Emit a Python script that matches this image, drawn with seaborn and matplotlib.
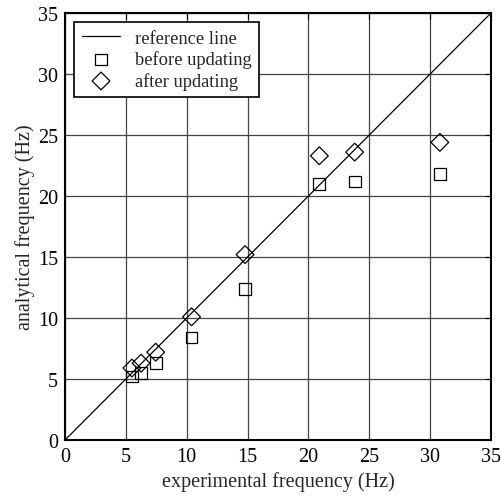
import matplotlib
matplotlib.use("Agg")
import matplotlib.pyplot as plt
import seaborn as sns
import pandas as pd

# measured vs analytical natural frequencies (Hz)
experimental = [5.5, 6.25, 7.45, 10.4, 14.8, 20.9, 23.8, 30.8]
before_updating = [5.2, 5.5, 6.3, 8.4, 12.4, 21.0, 21.2, 21.8]
after_updating = [5.9, 6.3, 7.2, 10.1, 15.2, 23.3, 23.6, 24.4]
ref_line = [0, 35]
ticks = [0, 5, 10, 15, 20, 25, 30, 35]

sns.set_style("white")
plt.rcParams['font.family'] = ['Liberation Serif', 'DejaVu Serif']
plt.rcParams['font.size'] = 14.5

df = pd.DataFrame({'exp': experimental, 'before': before_updating, 'after': after_updating})

fig, ax = plt.subplots(figsize=(5.02, 5.02), dpi=100)

sns.lineplot(x=ref_line, y=ref_line, color='black', linewidth=0.9, ax=ax, label='reference line')
sns.scatterplot(data=df, x='exp', y='before', marker='s', s=72, facecolors='none',
                edgecolor='black', linewidth=0.9, ax=ax, label='before updating')
sns.scatterplot(data=df, x='exp', y='after', marker='D', s=82, facecolors='none',
                edgecolor='black', linewidth=0.9, ax=ax, label='after updating')

ax.set_xlim(0, 35)
ax.set_ylim(0, 35)
ax.set_xticks(ticks)
ax.set_yticks(ticks)
ax.grid(True, color='#444444', linewidth=0.9)
ax.set_axisbelow(True)
ax.tick_params(direction='in', length=4, top=True, right=True, colors='black')
ax.tick_params(axis='x', pad=5)
ax.tick_params(axis='y', pad=5)
for sp in ax.spines.values():
    sp.set_color('black')
    sp.set_linewidth(1.5)

ax.set_xlabel("experimental frequency (Hz)", labelpad=4)
ax.set_ylabel("analytical frequency (Hz)", labelpad=2)

leg = ax.legend(loc='upper left', frameon=True, fancybox=False, framealpha=1,
                edgecolor='black', borderaxespad=0.5, handlelength=2.1,
                handletextpad=0.8, labelspacing=0.2, borderpad=0.4, fontsize=13.3)
leg.get_frame().set_linewidth(1.2)

fig.subplots_adjust(left=0.1295, right=0.978, bottom=0.1215, top=0.972)
fig.savefig("out.png", dpi=100)
